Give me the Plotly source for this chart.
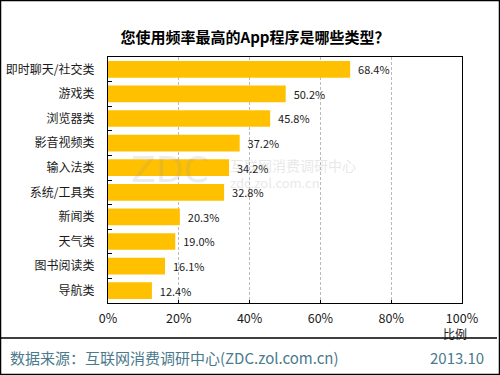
import plotly.graph_objects as go

categories = ['即时聊天/社交类', '游戏类', '浏览器类', '影音视频类', '输入法类',
              '系统/工具类', '新闻类', '天气类', '图书阅读类', '导航类']
values = [68.4, 50.2, 45.8, 37.2, 34.2, 32.8, 20.3, 19.0, 16.1, 12.4]
x_ticks = [0, 20, 40, 60, 80, 100]

W, H = 500, 375
L, R, T, B = 108, 462, 57, 303

def px(x):
    return (x - L) / (R - L)

def py(y):
    return (B - y) / (B - T)

FONT = "Noto Sans CJK SC, Noto Sans, sans-serif"

fig = go.Figure(go.Bar(
    y=categories, x=values, orientation='h',
    marker=dict(color='#FFC000', line=dict(width=0)),
    width=0.68,
    text=[f"{v:.1f}%" for v in values],
    texttemplate="  %{text}",
    textposition='outside',
    cliponaxis=False,
    textfont=dict(size=12.5, color='#1a1a1a', family=FONT),
))

fig.update_layout(
    width=W, height=H,
    margin=dict(l=L, r=W - R, t=T, b=H - B, autoexpand=False),
    paper_bgcolor='white', plot_bgcolor='white',
    showlegend=False,
    font=dict(family=FONT, color='#000000'),
    title=dict(text='<b>您使用频率最高的App程序是哪些类型？</b>', x=0.51, xanchor='center',
               y=1 - 38 / H, yanchor='middle', font=dict(size=15, color='#000000', family=FONT)),
)

fig.update_xaxes(
    range=[0, 100], tickvals=x_ticks, ticktext=[f"{t}%" for t in x_ticks],
    showgrid=True, gridcolor='#BBBBBB', griddash='3px,2px', gridwidth=1,
    showline=True, linecolor='#000000', linewidth=1.2, mirror=True,
    ticks='inside', ticklen=3, tickcolor='#000000',
    tickfont=dict(size=12.5, color='#1a1a1a'), ticklabelstandoff=4,
    zeroline=False, fixedrange=True, automargin=False,
)
fig.update_yaxes(
    autorange='reversed', categoryorder='array', categoryarray=categories,
    showline=True, linecolor='#000000', linewidth=1.2, mirror=True,
    ticks='inside', tickson='boundaries', ticklen=4, tickcolor='#000000',
    tickfont=dict(size=12, color='#1a1a1a'), ticklabelstandoff=10,
    showgrid=False, fixedrange=True, automargin=False,
)

# axis unit label
fig.add_annotation(text='比例', x=px(455), y=py(333), xref='paper', yref='paper',
                   xanchor='center', yanchor='middle',
                   showarrow=False, font=dict(size=12, color='#1a1a1a'))

# watermark
fig.add_annotation(text='ZDC', x=px(170), y=py(169), xref='paper', yref='paper',
                   xanchor='center', yanchor='middle', showarrow=False, opacity=0.18,
                   font=dict(size=36, color='#999999', family='DejaVu Sans, sans-serif'))
fig.add_annotation(text='互联网消费调研中心', x=px(293), y=py(165), xref='paper', yref='paper',
                   xanchor='center', yanchor='middle',
                   showarrow=False, opacity=0.22, font=dict(size=14, color='#999999'))
fig.add_annotation(text='zdc.zol.com.cn', x=px(275), y=py(182), xref='paper', yref='paper',
                   xanchor='center', yanchor='middle',
                   showarrow=False, opacity=0.22, font=dict(size=13, color='#999999'))

# footer
fig.add_shape(type='line', xref='paper', yref='paper', x0=px(1), x1=px(497),
              y0=py(338), y1=py(338), line=dict(color='#000000', width=1.5))
fig.add_annotation(text='数据来源：互联网消费调研中心(ZDC.zol.com.cn)', x=px(8), y=py(357),
                   xref='paper', yref='paper', xanchor='left', yanchor='middle', showarrow=False,
                   font=dict(size=15, color='#4a7a8c'))
fig.add_annotation(text='2013.10', x=px(486), y=py(357), xref='paper', yref='paper',
                   xanchor='right', yanchor='middle', showarrow=False,
                   font=dict(size=15, color='#4a7a8c'))

# outer border
fig.add_shape(type='rect', xref='paper', yref='paper', x0=px(0.5), x1=px(499.5),
              y0=py(374.5), y1=py(0.5), line=dict(color='#000000', width=1.5))

fig.write_html("out.html", config={'displayModeBar': False},
               post_script="document.body.style.margin='0';document.body.style.overflow='hidden';")
